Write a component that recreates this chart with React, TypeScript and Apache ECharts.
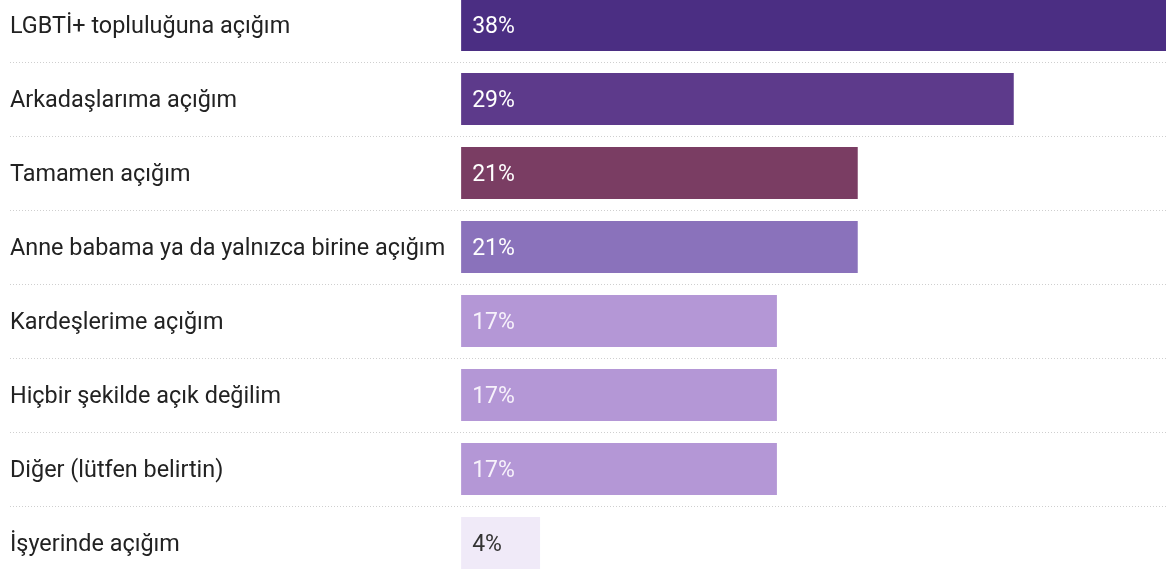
import React, { useEffect, useRef } from "react";
import * as echarts from "echarts";

const categories = [
  "LGBTİ+ topluluğuna açığım",
  "Arkadaşlarıma açığım",
  "Tamamen açığım",
  "Anne babama ya da yalnızca birine açığım",
  "Kardeşlerime açığım",
  "Hiçbir şekilde açık değilim",
  "Diğer (lütfen belirtin)",
  "İşyerinde açığım",
];
const values = [38, 29.4, 21.1, 21.1, 16.8, 16.8, 16.8, 4.2];
const labels = ["38%", "29%", "21%", "21%", "17%", "17%", "17%", "4%"];
const colors = ["#4b2e83", "#5d3a8b", "#7a3d63", "#8a72bb", "#b497d6", "#b497d6", "#b497d6", "#f0eaf8"];
const labelColors = ["#ffffff", "#ffffff", "#ffffff", "#ffffff", "#f7f2fb", "#f7f2fb", "#f7f2fb", "#333333"];

const PX = 18.8;
const X_MIN = -24;
const X_MAX = 40;

export default function App() {
  const ref = useRef<HTMLDivElement>(null);
  useEffect(() => {
    if (!ref.current) return;
    const chart = echarts.init(ref.current, undefined, { renderer: "svg" });
    chart.setOption({
      animation: false,
      grid: { left: 10, top: 0, bottom: 0, right: 0, containLabel: false },
      xAxis: {
        type: "value",
        min: X_MIN,
        max: X_MAX,
        show: false,
      },
      yAxis: {
        type: "category",
        inverse: true,
        data: categories,
        axisLine: { show: false },
        axisTick: { show: false },
        axisLabel: {
          inside: true,
          margin: 0,
          align: "left",
          color: "#222222",
          fontFamily: "Roboto",
          fontSize: 23.4,
        },
        splitLine: {
          show: true,
          lineStyle: { color: "#cfcfcf", width: 1, type: [1, 2] },
        },
      },
      series: [
        {
          type: "bar",
          barWidth: 52,
          data: values.map((v, i) => ({
            value: v,
            itemStyle: { color: colors[i] },
            label: {
              show: true,
              position: "insideLeft",
              distance: 11,
              formatter: () => labels[i],
              color: labelColors[i],
              fontFamily: "Roboto",
              fontSize: 23,
            },
          })),
        },
      ],
    });
    return () => chart.dispose();
  }, []);
  return (
    <div style={{ position: "fixed", left: 0, top: 0, width: 1166, height: 572, overflow: "hidden" }}>
      <div
        ref={ref}
        style={{
          position: "absolute",
          left: 0,
          top: -12.5,
          width: 10 + (X_MAX - X_MIN) * PX,
          height: 592,
        }}
      />
    </div>
  );
}
